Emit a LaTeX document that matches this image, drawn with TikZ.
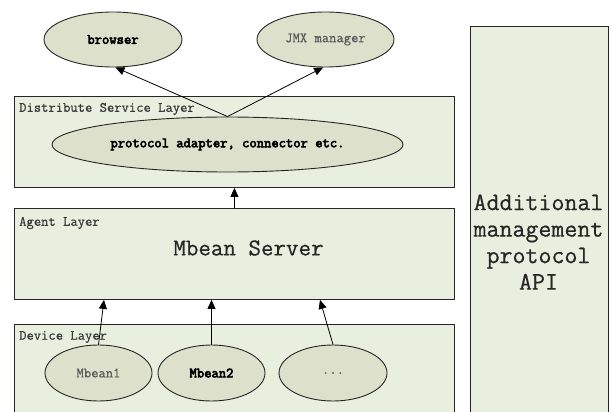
\documentclass[tikz,border=0pt]{standalone}
\usepackage{fontspec}
\setmonofont[FakeBold=0.6]{Latin Modern Mono}
\newfontfamily\monobold[FakeBold=4]{Latin Modern Mono}
\usetikzlibrary{shapes.geometric,arrows.meta,calc}
\definecolor{layerfill}{HTML}{E9EFDF}
\definecolor{beanfill}{HTML}{DDE0CA}
\definecolor{labelgray}{HTML}{3A3A3A}
\definecolor{softgray}{HTML}{5A5A5A}
\tikzset{
  layerbox/.style={draw=black!85, fill=layerfill, line width=0.9pt, rectangle, inner sep=0pt, anchor=north west},
  bean/.style={draw=black!85, fill=beanfill, line width=0.9pt, ellipse, inner sep=0pt, font=\ttfamily\fontsize{14.2}{15}\selectfont},
  layername/.style={anchor=west, inner sep=0pt, text=labelgray, font=\ttfamily\fontsize{14.2}{15}\selectfont},
  flow/.style={line width=0.8pt, -{Triangle[length=9pt,width=8pt]}},
}
\begin{document}
\begin{tikzpicture}[x=1pt, y=-1pt]
\useasboundingbox (0,0) rectangle (611,412);
\clip (0,0) rectangle (611,412);
\fill[white] (0,0) rectangle (611,412);

% layer boxes
\node[layerbox, minimum width=440pt, minimum height=91pt] (dsl) at (14,96) {};
\node[layerbox, minimum width=440pt, minimum height=91pt] (agent) at (14,208) {};
\node[layerbox, minimum width=440pt, minimum height=100pt] (device) at (14,324) {};
\node[layerbox, minimum width=138.5pt, minimum height=400pt] (api) at (469.5,26) {};

% layer titles
\node[layername] (dsltitle) at (19,109) {Distribute Service Layer};
\node[layername] (agenttitle) at (19,223) {Agent Layer};
\node[layername] (devicetitle) at (19,337) {Device Layer};

\node[inner sep=0pt, text=black!85, font=\ttfamily\fontsize{24.3}{26}\selectfont] (server) at (248.5,248) {Mbean Server};
\node[inner sep=0pt, align=center, text=black!85, font=\ttfamily\fontsize{25.2}{26.5}\selectfont] (apitext) at (538.5,242) {Additional\\management\\protocol\\API};

% clients
\node[bean, minimum width=138pt, minimum height=55pt, font=\monobold\fontsize{14.2}{15}\selectfont] (browser) at (113,39.5) {browser};
\node[bean, minimum width=137pt, minimum height=55pt, text=softgray] (jmx) at (325.5,39.5) {JMX manager};

% adapters
\node[bean, minimum width=351pt, minimum height=55pt, font=\monobold\fontsize{14.2}{15}\selectfont] (proto) at (227.5,144.5) {protocol adapter, connector etc.};

% managed beans
\node[bean, minimum width=107pt, minimum height=56pt, text=softgray] (m1) at (98.5,373) {Mbean1};
\node[bean, minimum width=107pt, minimum height=56pt, font=\monobold\fontsize{14.2}{15}\selectfont] (m2) at (211.5,373) {Mbean2};
\node[bean, minimum width=108pt, minimum height=56pt, text=softgray] (m3) at (333,373) {...};

% connectors
\draw[flow] (proto.north) -- (browser.275);
\draw[flow] (proto.north) -- (jmx.265);
\draw[flow] (agent.north) -- (dsl.south);
\draw[flow] (m1.north) -- ($(agent.south west)+(90,0)$);
\draw[flow] (m2.north) -- (m2.north |- agent.south);
\draw[flow] (m3.north) -- ($(agent.south west)+(306,0)$);
\end{tikzpicture}
\end{document}
